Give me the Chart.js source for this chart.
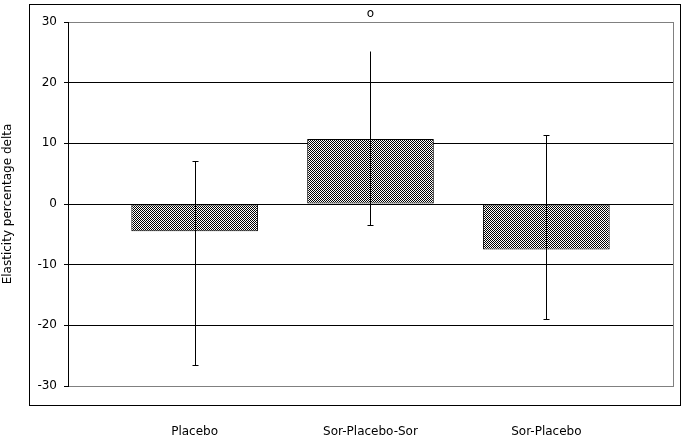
<!DOCTYPE html>
<html>
<head>
<meta charset="utf-8">
<script src="https://cdn.jsdelivr.net/npm/chart.js@4.4.1/dist/chart.umd.min.js"></script>
<style>
  html, body { margin: 0; padding: 0; background: #fff; }
  #wrap { position: relative; width: 687px; height: 440px; }
  #frame { position: absolute; left: 29px; top: 4px; width: 650px; height: 400px; border: 1px solid #000; }
  #chart { position: absolute; left: 0; top: 0; }
</style>
</head>
<body>
<div id="wrap">
  <div id="frame"></div>
  <canvas id="chart" width="687" height="440"></canvas>
</div>
<script>
const CATEGORIES = ["Placebo", "Sor-Placebo-Sor", "Sor-Placebo"];
const MEANS = [-4.5, 10.7, -7.5];
const ERR_HIGH = [7.1, 25.3, 11.3];
const ERR_LOW = [-26.6, -3.5, -19.0];
const CAP_TOP = [true, false, true];
const OUTLIERS = [null, 31.4, null];
const Y_TICKS = [-30, -20, -10, 0, 10, 20, 30];

const FONT = { family: "'DejaVu Sans', sans-serif", size: 12 };

function checker() {
  const c = document.createElement("canvas");
  c.width = 2;
  c.height = 2;
  const g = c.getContext("2d");
  g.fillStyle = "#fff";
  g.fillRect(0, 0, 2, 2);
  g.fillStyle = "#000";
  g.fillRect(0, 0, 1, 1);
  g.fillRect(1, 1, 1, 1);
  return g.createPattern(c, "repeat");
}

// grey right edge of the plot area
const plotEdge = {
  id: "plotEdge",
  beforeDatasetsDraw(chart) {
    const { ctx, chartArea } = chart;
    const px = Math.round(chartArea.right) + 0.5;
    ctx.save();
    ctx.strokeStyle = "#808080";
    ctx.lineWidth = 1;
    ctx.beginPath();
    ctx.moveTo(px, chartArea.top);
    ctx.lineTo(px, chartArea.bottom + 1);
    ctx.stroke();
    ctx.restore();
  }
};

const errorBars = {
  id: "errorBars",
  afterDatasetsDraw(chart) {
    const { ctx } = chart;
    const x = chart.scales.x;
    const y = chart.scales.y;
    ctx.save();
    ctx.strokeStyle = "#000";
    ctx.lineWidth = 1;
    MEANS.forEach((m, i) => {
      const px = Math.round(x.getPixelForValue(i)) + 0.5;
      const top = Math.round(y.getPixelForValue(ERR_HIGH[i])) + 0.5;
      const bot = Math.round(y.getPixelForValue(ERR_LOW[i])) + 0.5;
      ctx.beginPath();
      ctx.moveTo(px, top);
      ctx.lineTo(px, bot);
      if (CAP_TOP[i]) {
        ctx.moveTo(px - 3, top);
        ctx.lineTo(px + 3, top);
      }
      ctx.moveTo(px - 3, bot);
      ctx.lineTo(px + 3, bot);
      ctx.stroke();
    });
    ctx.fillStyle = "#000";
    ctx.font = "12px 'DejaVu Sans', sans-serif";
    ctx.textAlign = "center";
    ctx.textBaseline = "middle";
    OUTLIERS.forEach((v, i) => {
      if (v === null) return;
      ctx.fillText("o", x.getPixelForValue(i), y.getPixelForValue(v));
    });
    ctx.restore();
  }
};

const ctx = document.getElementById("chart").getContext("2d");

new Chart(ctx, {
  type: "bar",
  data: {
    datasets: [
      {
        data: MEANS.map((v, i) => ({ x: i, y: v })),
        backgroundColor: checker(),
        borderColor: "#000",
        borderWidth: 1,
        borderSkipped: false,
        barPercentage: 1,
        categoryPercentage: 0.72
      }
    ]
  },
  options: {
    responsive: false,
    animation: false,
    layout: { padding: { left: 0, right: 14, top: 22, bottom: 0 } },
    plugins: {
      legend: { display: false },
      tooltip: { enabled: false }
    },
    scales: {
      x: {
        type: "linear",
        offset: false,
        min: -0.72,
        max: 2.72,
        grid: { display: false, drawTicks: false, offset: false },
        border: { display: false },
        afterBuildTicks: (s) => {
          s.ticks = CATEGORIES.map((_, i) => ({ value: i }));
        },
        afterFit: (s) => {
          s.height = 54;
        },
        ticks: {
          padding: 39,
          color: "#000",
          font: FONT,
          autoSkip: false,
          maxRotation: 0,
          callback: (v) => CATEGORIES[v]
        }
      },
      y: {
        min: -30,
        max: 30,
        afterBuildTicks: (s) => {
          s.ticks = Y_TICKS.map((v) => ({ value: v }));
        },
        afterFit: (s) => {
          s.width = 68;
        },
        grid: {
          color: (c) => (c.tick && Math.abs(c.tick.value) === 30 ? "#808080" : "#000"),
          tickColor: "#000",
          tickLength: 4
        },
        border: { color: "#000" },
        ticks: { padding: 7, color: "#000", font: FONT },
        title: {
          display: true,
          text: "Elasticity percentage delta",
          color: "#000",
          font: FONT,
          padding: { top: 1, bottom: 0 }
        }
      }
    }
  },
  plugins: [plotEdge, errorBars]
});
</script>
</body>
</html>
